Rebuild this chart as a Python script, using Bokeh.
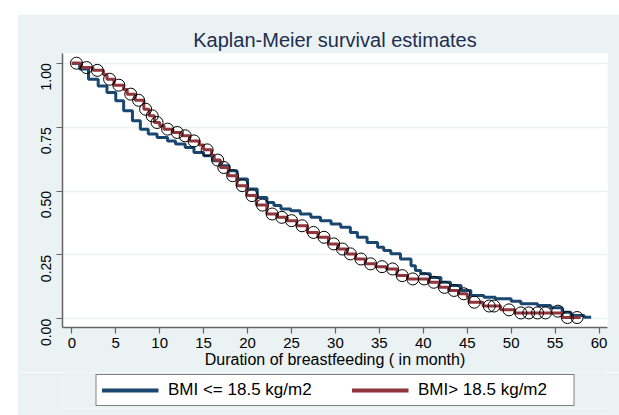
import math
from bokeh.plotting import figure
from bokeh.models import Range1d, FixedTicker, NumeralTickFormatter, Legend, LegendItem, Spacer
from bokeh.layouts import row, column
from bokeh.embed import file_html
from bokeh.resources import INLINE

# ---- data ----
title_text = "Kaplan-Meier survival estimates"
x_label = "Duration of breastfeeding ( in month)"
legend_low = "BMI <= 18.5 kg/m2"
legend_high = "BMI> 18.5 kg/m2"

x_ticks = [0, 5, 10, 15, 20, 25, 30, 35, 40, 45, 50, 55, 60]
y_ticks = [0.0, 0.25, 0.5, 0.75, 1.0]

# BMI <= 18.5 : step times and survival level from that time on
low_t = [0, 0.9, 1.9, 3.0, 4.0, 5.0, 5.9, 6.9, 7.8, 8.7, 9.7, 10.9, 11.8, 12.9, 13.9,
         15.0, 16.0, 16.9, 17.9, 18.8, 20.0, 21.1, 22.2, 23.0, 23.8, 24.9, 26.0, 27.2,
         28.3, 29.5, 30.6, 31.7, 32.5, 33.6, 34.8, 35.5, 36.3, 37.4, 38.6, 39.1, 39.7,
         40.8, 42.0, 43.1, 44.3, 45.4, 46.9, 48.2, 50.0, 51.1, 53.0, 54.5, 55.8, 56.8,
         58.3, 59.1]
low_s = [1.0, 0.977, 0.9375, 0.911, 0.885, 0.853, 0.814, 0.775, 0.742, 0.723, 0.709,
         0.696, 0.684, 0.670, 0.651, 0.638, 0.618, 0.599, 0.579, 0.547, 0.508, 0.475,
         0.455, 0.443, 0.430, 0.423, 0.410, 0.397, 0.384, 0.371, 0.358, 0.338, 0.319,
         0.299, 0.280, 0.267, 0.255, 0.234, 0.208, 0.189, 0.176, 0.162, 0.143, 0.130,
         0.111, 0.091, 0.084, 0.078, 0.069, 0.059, 0.052, 0.043, 0.026, 0.013, 0.006,
         0.006]

# BMI > 18.5
high_t = [0, 1.1, 2.4, 3.6, 4.0, 4.8, 5.9, 6.3, 7.2, 8.2, 8.8, 9.4, 10.0, 10.5, 11.5,
          12.5, 13.4, 14.5, 15.0, 15.9, 16.2, 16.9, 17.8, 18.8, 19.9, 21.0, 22.2, 23.4,
          24.5, 25.6, 26.8, 28.0, 29.2, 30.3, 31.3, 32.3, 33.4, 34.6, 35.8, 37.0, 38.2,
          40.6, 41.8, 42.9, 44.0, 45.0, 45.2, 46.8, 48.8, 50.4, 55.8, 57.9]
high_s = [1.0, 0.983, 0.972, 0.955, 0.9375, 0.914, 0.897, 0.879, 0.855, 0.82, 0.794,
          0.768, 0.755, 0.742, 0.729, 0.716, 0.696, 0.68, 0.661, 0.64, 0.621, 0.592,
          0.56, 0.521, 0.482, 0.445, 0.41, 0.397, 0.384, 0.364, 0.338, 0.319, 0.293,
          0.273, 0.254, 0.234, 0.215, 0.204, 0.195, 0.169, 0.156, 0.143, 0.123, 0.111,
          0.098, 0.085, 0.065, 0.05, 0.035, 0.023, 0.005, 0.005]

# hollow circle marks
cens_t = [0.53, 1.68, 2.9, 4.3, 5.35, 6.7, 7.6, 8.4, 9.15, 9.7, 10.9, 12.0, 12.9, 13.9,
          15.4, 16.6, 17.3, 18.3, 19.4, 20.5, 21.7, 22.8, 23.9, 25.0, 26.2, 27.5, 28.7,
          29.8, 30.8, 31.7, 32.9, 34.0, 35.3, 36.5, 37.6, 38.8, 40.1, 41.2, 42.4, 43.5,
          44.6, 45.8, 47.5, 48.05, 49.75, 51.1, 52.0, 53.0, 53.9, 55.3, 56.4, 57.5]
cens_s = [1.0, 0.983, 0.972, 0.9375, 0.914, 0.879, 0.855, 0.82, 0.794, 0.768, 0.742,
          0.729, 0.716, 0.696, 0.661, 0.621, 0.592, 0.56, 0.521, 0.482, 0.445, 0.41,
          0.397, 0.384, 0.364, 0.338, 0.319, 0.293, 0.273, 0.254, 0.234, 0.215, 0.204,
          0.195, 0.169, 0.156, 0.156, 0.143, 0.123, 0.111, 0.098, 0.065, 0.05, 0.05,
          0.035, 0.023, 0.023, 0.023, 0.023, 0.030, 0.005, 0.005]

# ---- styling ----
BG = "#eaf2f3"
NAVY = "#1a476f"
MAROON = "#90353b"
FONT = "Liberation Sans"

p = figure(width=602, height=358,
           x_range=Range1d(-1.06, 60.96), y_range=Range1d(-0.034, 1.038),
           output_backend="svg", toolbar_location=None,
           min_border_left=45, min_border_right=12, min_border_top=39,
           min_border_bottom=45)
p.background_fill_color = "white"
p.border_fill_color = BG
p.outline_line_color = None

p.title.text = title_text
p.title.align = "center"
p.title.text_font = FONT
p.title.text_font_size = "20px"
p.title.text_font_style = "normal"
p.title.text_color = "#1f2d50"
p.title.standoff = 5

p.xgrid.grid_line_color = None
p.ygrid.grid_line_color = BG
p.ygrid.grid_line_width = 1.5
p.ygrid.ticker = FixedTicker(ticks=y_ticks)

for ax in (p.xaxis[0], p.yaxis[0]):
    ax.axis_line_color = "#666666"
    ax.axis_line_width = 1.5
    ax.major_tick_line_color = "#666666"
    ax.major_tick_line_width = 1.2
    ax.major_tick_out = 6
    ax.major_tick_in = 0
    ax.minor_tick_line_color = None
    ax.major_label_text_font = FONT
    ax.major_label_text_color = "black"

p.xaxis.ticker = FixedTicker(ticks=x_ticks)
p.xaxis.major_label_text_font_size = "15px"
p.xaxis.major_label_standoff = 4
p.xaxis.axis_label = x_label
p.xaxis.axis_label_text_font = FONT
p.xaxis.axis_label_text_font_size = "16px"
p.xaxis.axis_label_text_font_style = "normal"
p.xaxis.axis_label_text_color = "black"
p.xaxis.axis_label_standoff = 0

p.yaxis.ticker = FixedTicker(ticks=y_ticks)
p.yaxis.formatter = NumeralTickFormatter(format="0.00")
p.yaxis.major_label_orientation = math.pi / 2
p.yaxis.major_label_text_font_size = "14px"
p.yaxis.major_label_standoff = 10

p.step(low_t, low_s, mode="after", line_color=NAVY, line_width=3)
p.step(high_t, high_s, mode="after", line_color=MAROON, line_width=3)
p.scatter(cens_t, cens_s, marker="circle", size=12, fill_color=None,
          line_color="black", line_width=1)

# ---- legend strip (separate small figure so the legend box is not clipped) ----
lf = figure(width=602, height=43, x_range=Range1d(1000, 1001), y_range=Range1d(1000, 1001),
            output_backend="svg", toolbar_location=None,
            x_axis_type=None, y_axis_type=None,
            min_border_left=34, min_border_right=0, min_border_top=0, min_border_bottom=7)
lf.background_fill_color = BG
lf.border_fill_color = BG
lf.outline_line_color = None
lf.xgrid.grid_line_color = None
lf.ygrid.grid_line_color = None
lr_low = lf.step(low_t, low_s, mode="after", line_color=NAVY, line_width=4)
lr_high = lf.step(high_t, high_s, mode="after", line_color=MAROON, line_width=4)

legend = Legend(items=[LegendItem(label=legend_low, renderers=[lr_low]),
                       LegendItem(label=legend_high, renderers=[lr_high])],
                orientation="horizontal", location="center")
legend.label_text_font = FONT
legend.label_text_font_size = "17px"
legend.label_text_color = "black"
legend.glyph_width = 57
legend.glyph_height = 18
legend.label_height = 18
legend.label_standoff = 10
legend.label_width = 150
legend.spacing = 33
legend.padding = 5
legend.margin = 0
legend.border_line_color = "black"
legend.border_line_width = 1
legend.background_fill_color = "white"
legend.background_fill_alpha = 1
lf.add_layout(legend)

page = row(Spacer(width=17), column(Spacer(height=14), p, lf))
open("out.html", "w").write(file_html(page, INLINE))
